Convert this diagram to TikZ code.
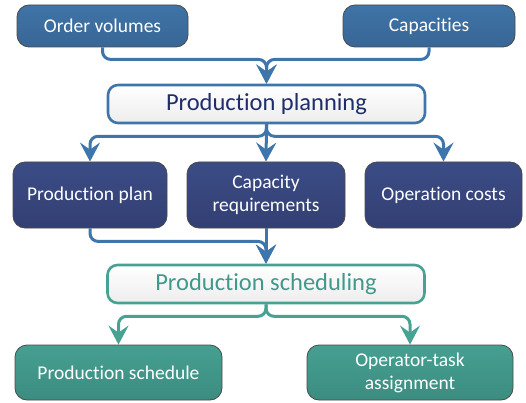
\documentclass[tikz,border=0pt]{standalone}
\usepackage{fontspec}
\setmainfont{Carlito}[Ligatures=NoCommon]
\usetikzlibrary{arrows.meta,calc}

\definecolor{topfill}{HTML}{3F74A6}
\definecolor{topfilldk}{HTML}{386696}
\definecolor{midfill}{HTML}{3B4C85}
\definecolor{midfilldk}{HTML}{333F73}
\definecolor{tealfill}{HTML}{45A092}
\definecolor{tealfilldk}{HTML}{3C8C80}
\definecolor{boxedge}{HTML}{4A4A4A}
\definecolor{bluelink}{HTML}{3E76AB}
\definecolor{teallink}{HTML}{48A294}
\definecolor{navytext}{HTML}{1F2E6B}
\definecolor{tealtext}{HTML}{3F9A8B}

\tikzset{
  databox/.style={draw=boxedge, line width=0.8pt, rounded corners=12pt,
    text=white, align=center, font=\fontsize{19.5}{23}\selectfont,
    inner sep=0pt},
  inbox/.style={databox, top color=topfill, bottom color=topfilldk},
  midbox/.style={databox, top color=midfill, bottom color=midfilldk},
  outbox/.style={databox, top color=tealfill, bottom color=tealfilldk},
  stagebox/.style={rounded corners=10pt, line width=2.6pt,
    top color=white, bottom color=black!7, align=center,
    font=\fontsize{24.5}{28}\selectfont, inner sep=0pt,
    minimum width=317pt, minimum height=38pt},
  link/.style={line width=3pt, rounded corners=8pt,
    -{Stealth[length=19pt,width=20pt,inset=7pt]}},
  bluearrow/.style={link, draw=bluelink},
  tealarrow/.style={link, draw=teallink},
}

\begin{document}
\begin{tikzpicture}[x=1pt,y=-1pt]
  \useasboundingbox (0,0) rectangle (526,403);

  % inputs
  \node[inbox, minimum width=171pt, minimum height=42pt] (ov) at (102.5,26) {Order volumes};
  \node[inbox, minimum width=172pt, minimum height=42pt] (cap) at (429,26) {Capacities};

  % planning stage
  \node[stagebox, draw=bluelink, text=navytext] (pp) at (266.5,104) {Production planning};

  % planning results
  \node[midbox, minimum width=154pt, minimum height=66pt] (plan) at (90,195) {Production plan};
  \node[midbox, minimum width=158pt, minimum height=66pt] (req) at (266,195) {Capacity\\requirements};
  \node[midbox, minimum width=157pt, minimum height=66pt] (cost) at (443.5,195) {Operation costs};

  % scheduling stage
  \node[stagebox, draw=teallink, text=tealtext] (ps) at (266,284) {Production scheduling};

  % scheduling results
  \node[outbox, minimum width=207pt, minimum height=55pt] (sched) at (118.5,372.5) {Production schedule};
  \node[outbox, minimum width=206pt, minimum height=55pt] (op) at (410,372.5) {Operator-task\\assignment};

  % inputs into planning
  \draw[bluearrow] (ov.south) -- ++(0,12) -| (pp.north);
  \draw[bluearrow] (cap.south) -- ++(0,12) -| (pp.north);

  % planning outputs
  \draw[bluearrow] (pp.south) -- ++(0,12) -| (plan.north);
  \draw[bluearrow] (pp.south) -- (req.north);
  \draw[bluearrow] (pp.south) -- ++(0,12) -| (cost.north);

  % into scheduling
  \draw[bluearrow] (plan.south) -- ++(0,13) -| (ps.north);
  \draw[bluearrow] (req.south) -- (ps.north);

  % scheduling outputs
  \draw[tealarrow] (ps.south) -- ++(0,12) -| (sched.north);
  \draw[tealarrow] (ps.south) -- ++(0,12) -| (op.north);
\end{tikzpicture}
\end{document}
